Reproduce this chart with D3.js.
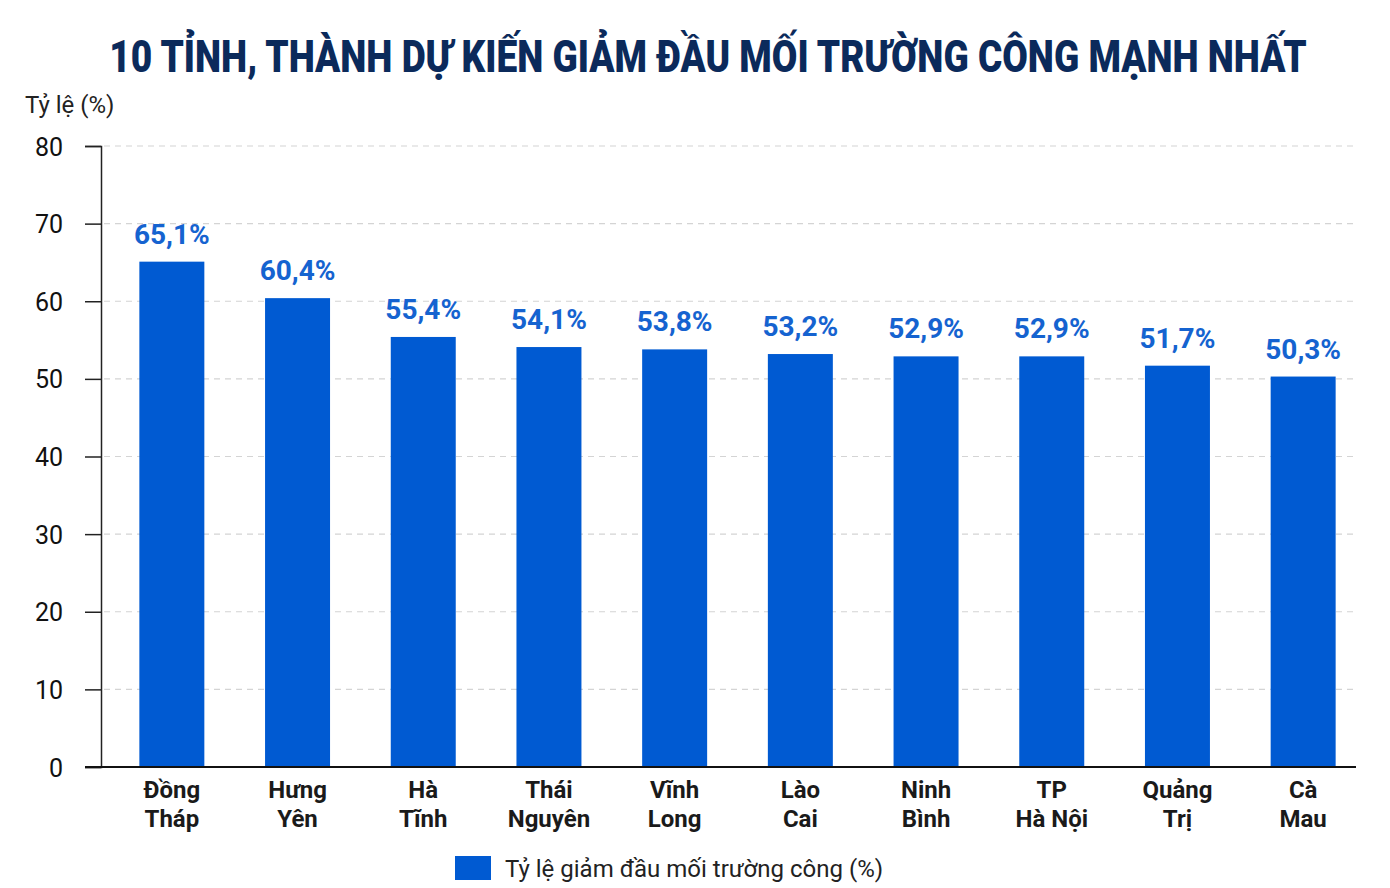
<!DOCTYPE html>
<html><head><meta charset="utf-8">
<script src="https://cdn.jsdelivr.net/npm/d3@7/dist/d3.min.js"></script>
<style>body{margin:0;background:#fff}svg{display:block}</style>
</head><body>
<svg id="c" width="1390" height="888"></svg>
<script>
const categories = [["Đồng","Tháp"],["Hưng","Yên"],["Hà","Tĩnh"],["Thái","Nguyên"],["Vĩnh","Long"],["Lào","Cai"],["Ninh","Bình"],["TP","Hà Nội"],["Quảng","Trị"],["Cà","Mau"]];
const values = [65.1,60.4,55.4,54.1,53.8,53.2,52.9,52.9,51.7,50.3];
const labels = ["65,1%","60,4%","55,4%","54,1%","53,8%","53,2%","52,9%","52,9%","51,7%","50,3%"];
const yTicks = [0,10,20,30,40,50,60,70,80];
const title = "10 TỈNH, THÀNH DỰ KIẾN GIẢM ĐẦU MỐI TRƯỜNG CÔNG MẠNH NHẤT";
const yLabel = "Tỷ lệ (%)";
const legendLabel = "Tỷ lệ giảm đầu mối trường công (%)";

const svg = d3.select("#c");
const font = "Roboto, 'Noto Sans', sans-serif";
const barColor = "#005ad2";
const x = d3.scaleBand().domain(categories.map((d,i)=>i)).range([109,1366]).paddingInner(0.483).paddingOuter(0.2415);
const y = d3.scaleLinear().domain([0,80]).range([767,146]);

const tg = svg.append("g");
const tt = tg.append("text").attr("x",0).attr("y",0).attr("text-anchor","middle")
  .attr("font-family",font).attr("font-weight",900).attr("font-size",45)
  .attr("fill","#0b2a5b").text(title);
const natural = tt.node().getComputedTextLength();
tg.attr("transform",`translate(708,72) scale(${1198/natural},1)`);

svg.append("text").attr("x",25).attr("y",113).attr("font-family",font).attr("font-size",24).attr("fill","#222").text(yLabel);

// grid
svg.append("g").selectAll("line").data(yTicks.filter(d=>d>0)).join("line")
  .attr("x1",104).attr("x2",1356).attr("y1",d=>y(d)).attr("y2",d=>y(d))
  .attr("stroke","#d4d4d4").attr("stroke-width",1.2).attr("stroke-dasharray","6,5");

// y axis
const ya = svg.append("g").attr("transform","translate(101,0)").call(d3.axisLeft(y).tickValues(yTicks).tickSize(16).tickPadding(22));
ya.select(".domain").attr("stroke","#222").attr("stroke-width",1.5);
ya.selectAll(".tick line").attr("stroke","#222").attr("stroke-width",1.5);
ya.selectAll(".tick text").attr("font-family",font).attr("font-size",25).attr("fill","#111").attr("dy","0.36em");

// bars
svg.append("g").selectAll("rect").data(values).join("rect")
  .attr("x",(d,i)=>x(i)).attr("width",x.bandwidth()).attr("y",d=>y(d)).attr("height",d=>y(0)-y(d)).attr("fill",barColor);

svg.append("g").selectAll("text").data(values).join("text")
  .attr("x",(d,i)=>x(i)+x.bandwidth()/2).attr("y",d=>y(d)-18).attr("text-anchor","middle")
  .attr("font-family",font).attr("font-weight",700).attr("font-size",28).attr("fill","#1563d0")
  .text((d,i)=>labels[i]);

// x axis baseline
svg.append("line").attr("x1",85).attr("x2",1356).attr("y1",767).attr("y2",767).attr("stroke","#111").attr("stroke-width",2);

const xl = svg.append("g").selectAll("text").data(categories).join("text")
  .attr("x",(d,i)=>x(i)+x.bandwidth()/2).attr("y",798).attr("text-anchor","middle")
  .attr("font-family",font).attr("font-weight",700).attr("font-size",24).attr("fill","#1a1a1a");
xl.selectAll("tspan").data(d=>d).join("tspan").attr("x",function(){return this.parentNode.getAttribute("x");})
  .attr("dy",(d,i)=>i===0?0:29).text(d=>d);

// legend
svg.append("rect").attr("x",455).attr("y",856).attr("width",36).attr("height",24).attr("fill",barColor);
svg.append("text").attr("x",505).attr("y",877).attr("font-family",font).attr("font-size",24).attr("fill","#222").text(legendLabel);
</script>
</body></html>
